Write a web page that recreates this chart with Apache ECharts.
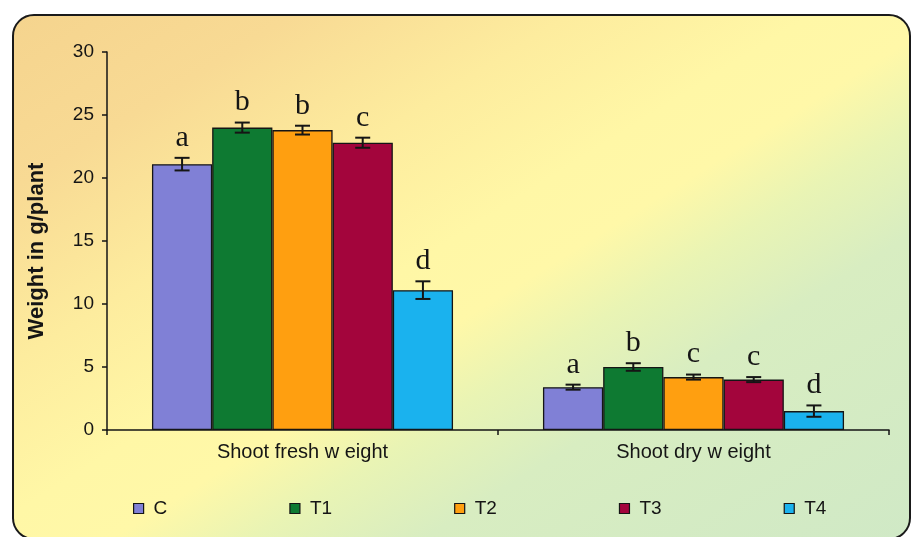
<!DOCTYPE html>
<html>
<head>
<meta charset="utf-8">
<script src="https://cdn.jsdelivr.net/npm/echarts@6/dist/echarts.min.js"></script>
<style>
  html, body { margin: 0; padding: 0; background: #ffffff; }
  #wrap { position: relative; width: 912px; height: 537px; overflow: hidden; background: #ffffff; }
  #panel {
    position: absolute; left: 12px; top: 14px; width: 899px; height: 526px;
    border: 2px solid #1a1a1a; border-radius: 22px; box-sizing: border-box;
    background:
      linear-gradient(148deg, #f5d48e 0%, #f8da94 16%, #fdec9e 32%, #fff7a6 46%, #fff8a8 54%, #e9f4b4 62%, #d8edc1 72%, #d0e9c6 100%);
  }
  #chart { position: absolute; left: 0; top: 0; width: 912px; height: 537px; }
</style>
</head>
<body>
<div id="wrap">
  <div id="panel"></div>
  <div id="chart"></div>
</div>
<script>
// ---- data ----
const categories = ['Shoot fresh w eight', 'Shoot dry w eight'];
const seriesNames = ['C', 'T1', 'T2', 'T3', 'T4'];
const valuesC  = [21.1, 3.4];
const valuesT1 = [24.0, 5.0];
const valuesT2 = [23.8, 4.2];
const valuesT3 = [22.8, 4.0];
const valuesT4 = [11.1, 1.5];
const errC  = [0.5, 0.2];
const errT1 = [0.4, 0.3];
const errT2 = [0.35, 0.2];
const errT3 = [0.4, 0.2];
const errT4 = [0.7, 0.45];
const lettersC  = ['a', 'a'];
const lettersT1 = ['b', 'b'];
const lettersT2 = ['b', 'c'];
const lettersT3 = ['c', 'c'];
const lettersT4 = ['d', 'd'];
const yTitle = 'Weight in g/plant';
const yMin = 0, yMax = 30, yInterval = 5;

// ---- styling ----
const colors = ['#8080d6', '#0e7a32', '#ff9f10', '#a3053c', '#1ab2ee'];
const allValues = [valuesC, valuesT1, valuesT2, valuesT3, valuesT4];
const allErr = [errC, errT1, errT2, errT3, errT4];
const allLetters = [lettersC, lettersT1, lettersT2, lettersT3, lettersT4];
const catGap = 0.23;
const nSeries = seriesNames.length;
const sansFont = 'Liberation Sans, Arial, sans-serif';

const chart = echarts.init(document.getElementById('chart'), null, { renderer: 'canvas' });

const series = [];
seriesNames.forEach((name, si) => {
  series.push({
    name: name,
    type: 'bar',
    data: allValues[si],
    barGap: '0%',
    barCategoryGap: (catGap * 100) + '%',
    itemStyle: { color: colors[si], borderColor: '#151515', borderWidth: 1.3 },
    z: 2
  });
});
seriesNames.forEach((name, si) => {
  series.push({
    type: 'custom',
    name: name + '_err',
    data: allValues[si].map((v, ci) => [ci, v, allErr[si][ci]]),
    z: 5,
    silent: true,
    renderItem: function (params, api) {
      const ci = api.value(0), v = api.value(1), e = api.value(2);
      const band = api.size([1, 0])[0];
      const bw = band * (1 - catGap) / nSeries;
      const base = api.coord([ci, 0]);
      const cx = base[0] - (nSeries / 2) * bw + (si + 0.5) * bw;
      const yTop = api.coord([ci, v + e])[1];
      const yBot = api.coord([ci, v - e])[1];
      const cap = 7.5;
      const st = { stroke: '#151515', lineWidth: 2 };
      return {
        type: 'group',
        children: [
          { type: 'line', shape: { x1: cx, y1: yTop, x2: cx, y2: yBot }, style: st },
          { type: 'line', shape: { x1: cx - cap, y1: yTop, x2: cx + cap, y2: yTop }, style: st },
          { type: 'line', shape: { x1: cx - cap, y1: yBot, x2: cx + cap, y2: yBot }, style: st },
          { type: 'text', x: cx, y: yTop - 5,
            style: { text: allLetters[si][params.dataIndex], font: '30px "Liberation Serif", "Times New Roman", serif',
                     fill: '#151515', align: 'center', verticalAlign: 'bottom' } }
        ]
      };
    }
  });
});

chart.setOption({
  animation: false,
  backgroundColor: 'transparent',
  grid: { left: 107, right: 23, top: 52, bottom: 107 },
  graphic: [{
    type: 'text', x: 37, y: 251, rotation: Math.PI / 2,
    style: { text: yTitle, font: 'bold 22px ' + sansFont, fill: '#151515', align: 'center', verticalAlign: 'middle' }
  }],
  legend: {
    data: seriesNames,
    left: 133, top: 499, padding: 0,
    itemWidth: 10, itemHeight: 10, itemGap: 122,
    icon: 'rect',
    itemStyle: { borderColor: '#151515', borderWidth: 1.2 },
    textStyle: { fontFamily: sansFont, fontSize: 19, color: '#151515', padding: [0, 0, 0, 5] }
  },
  xAxis: {
    type: 'category',
    data: categories,
    axisLine: { lineStyle: { color: '#151515', width: 1.5 } },
    axisTick: { show: true, length: 5, interval: 0, alignWithLabel: false, lineStyle: { color: '#151515', width: 1.5 } },
    axisLabel: { fontFamily: sansFont, fontSize: 20, color: '#151515', margin: 12 },
    splitLine: { show: false }
  },
  yAxis: {
    type: 'value',
    min: yMin, max: yMax, interval: yInterval,
    axisLine: { show: true, lineStyle: { color: '#151515', width: 1.5 } },
    axisTick: { show: true, length: 5, lineStyle: { color: '#151515', width: 1.5 } },
    axisLabel: { fontFamily: sansFont, fontSize: 19, color: '#151515', margin: 13 },
    splitLine: { show: false }
  },
  series: series
});
</script>
</body>
</html>
